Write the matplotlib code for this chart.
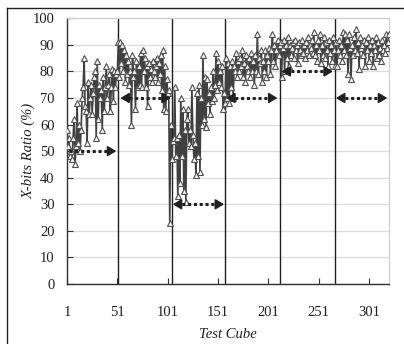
import matplotlib
matplotlib.use("Agg")
import matplotlib.pyplot as plt
from matplotlib.lines import Line2D
import numpy as np

# ---- data ----
seg1 = [58, 52, 55, 48, 50, 47, 55, 62, 45, 52, 68, 53, 60, 50, 58, 70, 74, 85, 67, 65,
        53, 76, 64, 70, 75, 64, 72, 78, 80, 55, 84, 62, 75, 70, 73, 58, 78, 65, 74, 82,
        70, 75, 79, 65, 74, 81, 69, 80, 74, 79, 80, 91]
seg2 = [78, 91, 83, 90, 80, 88, 76, 86, 79, 84, 75, 80, 60, 86, 78, 80, 66, 84, 74, 82,
        75, 87, 74, 88, 80, 85, 74, 82, 67, 83, 78, 81, 76, 84, 80, 78, 82, 85, 76, 83,
        79, 86, 73, 88, 66, 82, 65, 77, 72, 73, 23, 60, 47]
seg3 = [54, 55, 74, 48, 55, 33, 56, 38, 70, 48, 66, 35, 58, 31, 62, 66, 53, 58, 52, 74,
        56, 47, 53, 41, 72, 48, 75, 42, 70, 60, 86, 62, 78, 59, 77, 68, 72, 64, 74, 69,
        80, 70, 75, 87, 73, 84, 76, 80, 74, 82, 66, 72, 68]
seg4 = [85, 70, 83, 68, 82, 74, 84, 70, 82, 80, 87, 78, 84, 80, 85, 82, 88, 78, 83, 76,
        86, 82, 80, 85, 78, 87, 80, 84, 75, 86, 80, 94, 79, 85, 83, 88, 76, 84, 80, 88,
        78, 86, 84, 89, 79, 88, 94, 84, 90, 82, 88, 92, 86, 90]
seg5 = [91, 78, 89, 92, 80, 90, 85, 93, 82, 90, 86, 89, 91, 85, 92, 88, 90, 83, 91, 88,
        86, 92, 87, 90, 85, 91, 88, 93, 86, 90, 89, 92, 87, 95, 86, 90, 84, 92, 88, 94,
        83, 90, 86, 93, 85, 91, 88, 82, 92, 87, 90, 84, 93, 88, 82]
seg6 = [91, 82, 88, 92, 86, 90, 84, 95, 88, 94, 86, 92, 79, 94, 89, 77, 90, 86, 93, 88,
        96, 87, 91, 81, 93, 89, 90, 86, 92, 82, 91, 88, 93, 84, 90, 87, 92, 82, 90, 88,
        93, 85, 91, 86, 89, 84, 92, 88, 90, 87, 94, 89, 91, 94]
ratio = seg1 + seg2 + seg3 + seg4 + seg5 + seg6
cube = list(range(1, len(ratio) + 1))

boundaries = [52, 105.7, 158.2, 212.8, 267.3]
arrow_levels = [50, 70, 30, 70, 80, 70]
arrow_starts = [0, 54, 106, 159, 214, 268]
arrow_ends = [50, 104, 157, 210, 265, 319]

xticks = [1, 51, 101, 151, 201, 251, 301]
yticks = list(range(0, 101, 10))

# ---- figure ----
W, H = 404, 344
fig = plt.figure(figsize=(W / 100, H / 100), dpi=100)
fig.patch.set_facecolor("white")
ax = fig.add_axes([67 / W, 1 - 284 / H, (389.3 - 67) / W, (284 - 18.3) / H])

serif = ["Liberation Serif", "DejaVu Serif"]

ax.set_xlim(1, 321)
ax.set_ylim(0, 100)
ax.set_yticks(yticks)
ax.set_xticks(xticks)
ax.grid(axis="y", color="#dcdcdc", lw=0.9, zorder=0)
ax.set_axisbelow(True)

for b in boundaries:
    ax.axvline(b, color="#202020", lw=1.0, zorder=2)

ax.plot(cube, ratio, color="#404040", lw=1.2, marker="^", ms=4.2,
        mfc="#f2f2f2", mec="#505050", mew=0.8, zorder=3)

for lv, s, e in zip(arrow_levels, arrow_starts, arrow_ends):
    ax.plot([s + 3, e - 3], [lv, lv], color="#202020", lw=2.2,
            linestyle=(0, (1, 0.9)), zorder=4)
    for a, b in ((e - 4, e), (s + 4, s)):
        ax.annotate("", xy=(b, lv), xytext=(a, lv),
                    arrowprops=dict(arrowstyle="-|>,head_length=0.5,head_width=0.3",
                                    color="#202020", lw=1.3, shrinkA=0, shrinkB=0),
                    zorder=5)

for sp in ("left", "bottom"):
    ax.spines[sp].set_color("#303030")
    ax.spines[sp].set_linewidth(1.0)
for sp in ("top", "right"):
    ax.spines[sp].set_color("#cfcfcf")
    ax.spines[sp].set_linewidth(0.9)

ax.tick_params(axis="y", direction="in", length=4, width=0.8, pad=9,
               color="#303030", labelsize=10.5)
ax.tick_params(axis="x", direction="in", length=4, width=0.8, pad=16,
               color="#303030", labelsize=10.5)
for lab in ax.get_xticklabels() + ax.get_yticklabels():
    lab.set_family(serif)
    lab.set_color("#202020")

ax.set_xlabel("Test Cube", family=serif, style="italic", fontsize=10.5,
              color="#202020", labelpad=6)
ax.set_ylabel("X-bits Ratio (%)", family=serif, style="italic", fontsize=10.5,
              color="#202020", labelpad=-2)

# outer frame (cut at right/bottom edges)
fig.add_artist(Line2D([7 / W, 7 / W], [0, 1 - 8 / H], transform=fig.transFigure,
                      color="#202020", lw=1.0))
fig.add_artist(Line2D([7 / W, 1], [1 - 8 / H, 1 - 8 / H], transform=fig.transFigure,
                      color="#202020", lw=1.0))

fig.savefig("out.png", dpi=100)
